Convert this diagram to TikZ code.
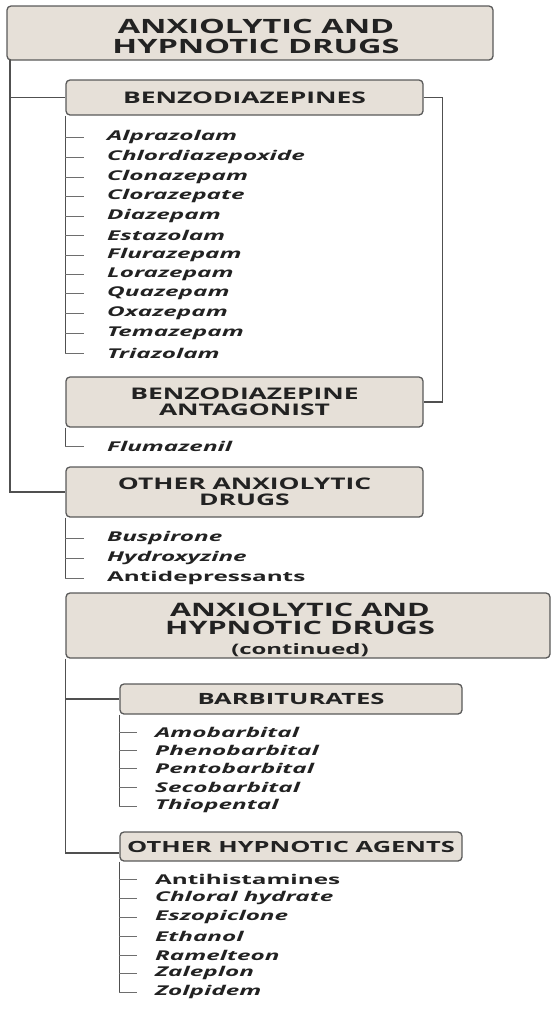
\documentclass[tikz,border=0pt]{standalone}
\usepackage{fontspec}
\setmainfont{Open Sans}[FakeStretch=1.65]
\newfontfamily\itemfont{Open Sans}[FakeStretch=1.8]
\definecolor{boxfill}{HTML}{E6E0D8}
\definecolor{boxline}{HTML}{5A5A5A}
\definecolor{ink}{HTML}{222222}
\definecolor{link}{HTML}{505050}
\definecolor{tick}{HTML}{6E6E6E}
\begin{document}
\begin{tikzpicture}[x=1pt,y=-1pt,
  box/.style={draw=boxline, fill=boxfill, rounded corners=4pt, line width=1.3pt,
    inner sep=0pt, align=center, text=ink},
  heading/.style={inner sep=0pt, align=center, text=ink},
  subtitle/.style={box, font=\fontsize{16}{16}\selectfont\bfseries},
  item/.style={anchor=west, inner sep=0pt, text=ink,
    font=\itemfont\fontsize{13.5}{13.5}\selectfont\bfseries\itshape},
  itemup/.style={item, font=\itemfont\fontsize{13.5}{13.5}\selectfont\bfseries},
  conn/.style={draw=link, line width=1.2pt},
  tickline/.style={draw=tick, line width=1pt},
]
\useasboundingbox (0,0) rectangle (554,1013);

% ---------- first part ----------
\node[box, minimum width=486pt, minimum height=54pt] (top) at (250,33) {};
\node[heading, font=\fontsize{19.7}{20}\selectfont\bfseries] (toptext) at (256,36)
  {ANXIOLYTIC AND\\HYPNOTIC DRUGS};
\coordinate (spine) at (10,60);

\node[subtitle, minimum width=357pt, minimum height=35pt] (benz) at (244.5,97.5)
  {BENZODIAZEPINES};
\node[subtitle, minimum width=357pt, minimum height=50pt] (antag) at (244.5,402)
  {BENZODIAZEPINE\\ANTAGONIST};
\node[subtitle, minimum width=357pt, minimum height=50pt] (othanx) at (244.5,492)
  {OTHER ANXIOLYTIC\\DRUGS};

% benzodiazepines
\foreach \n/\txt/\y in {1/Alprazolam/137, 2/Chlordiazepoxide/157, 3/Clonazepam/177,
  4/Clorazepate/196, 5/Diazepam/216, 6/Estazolam/235, 7/Flurazepam/255,
  8/Lorazepam/274, 9/Quazepam/293, 10/Oxazepam/313, 11/Temazepam/333,
  12/Triazolam/353}
  \node[item] (b\n) at (107,\y) {\txt};

\node[item] (flu) at (107,446) {Flumazenil};

\node[item] (bus) at (107,538) {Buspirone};
\node[item] (hyd) at (107,558) {Hydroxyzine};
\node[itemup] (antid) at (107,578) {Antidepressants};

% main spine and branches
\draw[conn] (spine) |- (othanx.west);
\draw[conn] (spine |- benz.west) -- (benz.west);
\draw[conn] (benz.east) -- ++(19,0) |- (antag.east);

\draw[conn] (benz.south west) -- (benz.south west |- b12.west);
\foreach \n in {1,...,12}
  \draw[tickline] (benz.south west |- b\n.west) -- ++(19,0);

\draw[conn] (antag.south west) -- (antag.south west |- flu.west);
\draw[tickline] (antag.south west |- flu.west) -- ++(19,0);

\draw[conn] (othanx.south west) -- (othanx.south west |- antid.west);
\foreach \m in {bus,hyd,antid}
  \draw[tickline] (othanx.south west |- \m.west) -- ++(19,0);

% ---------- continued part ----------
\node[box, minimum width=484pt, minimum height=65pt] (cont) at (308,625.5) {};
\node[heading, font=\fontsize{18.5}{18}\selectfont\bfseries] (conttext) at (300,630)
  {ANXIOLYTIC AND\\HYPNOTIC DRUGS\\[2pt]
   {\fontsize{14.5}{14.5}\selectfont (continued)}};

\node[subtitle, font=\fontsize{15.5}{15.5}\selectfont\bfseries,
  minimum width=342pt, minimum height=30pt] (barb) at (291,699) {BARBITURATES};
\node[subtitle, font=\fontsize{15.4}{15.4}\selectfont\bfseries,
  minimum width=342pt, minimum height=29pt] (hyp) at (291,846.5)
  {OTHER HYPNOTIC AGENTS};

\foreach \n/\txt/\y in {1/Amobarbital/732, 2/Phenobarbital/750, 3/Pentobarbital/768,
  4/Secobarbital/787, 5/Thiopental/806}
  \node[item] (r\n) at (155,\y) {\txt};

\node[itemup] (h1) at (155,879) {Antihistamines};
\foreach \n/\txt/\y in {2/Chloral hydrate/898, 3/Eszopiclone/917, 4/Ethanol/936,
  5/Ramelteon/955, 6/Zaleplon/973, 7/Zolpidem/992}
  \node[item] (h\n) at (155,\y) {\txt};

\draw[conn] (cont.south west) -- (cont.south west |- 0,853) -- (hyp.west |- 0,853);
\draw[conn] (cont.south west |- barb.west) -- (barb.west);

\draw[conn] (barb.south west) -- (barb.south west |- r5.west);
\foreach \n in {1,...,5}
  \draw[tickline] (barb.south west |- r\n.west) -- ++(18,0);

\draw[conn] (hyp.south west) -- (hyp.south west |- h7.west);
\foreach \n in {1,...,7}
  \draw[tickline] (hyp.south west |- h\n.west) -- ++(18,0);
\end{tikzpicture}
\end{document}
